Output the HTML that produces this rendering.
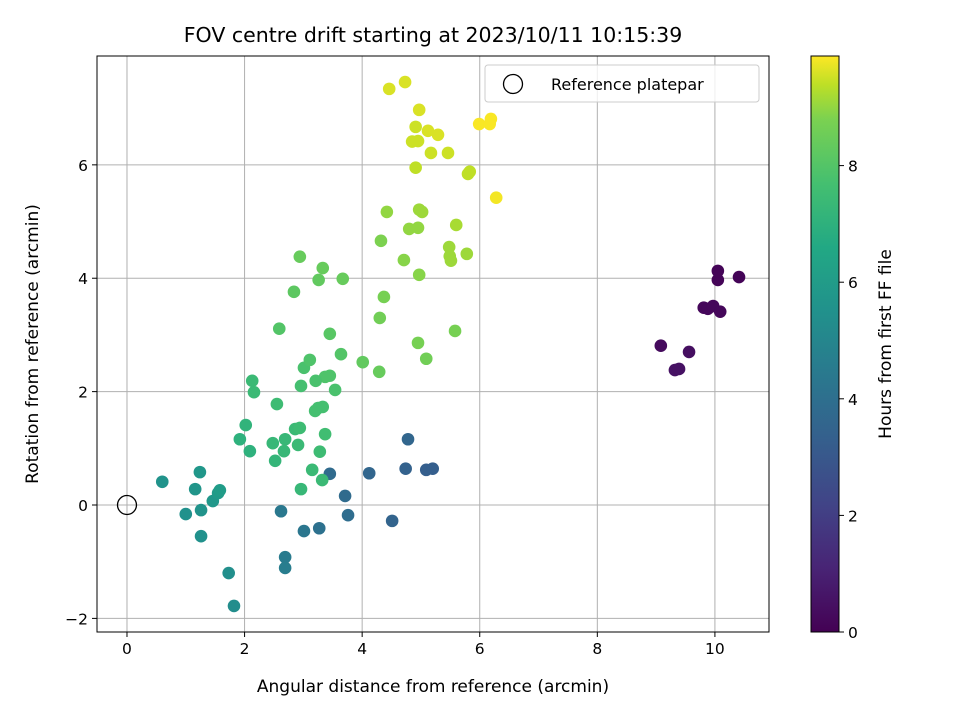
<!DOCTYPE html>
<html><head><meta charset="utf-8"><style>
body{margin:0;background:#fff;}
svg text{font-family:"DejaVu Sans","Liberation Sans",sans-serif;fill:#000;}
</style></head><body>
<svg id="chart" width="960" height="720" xmlns="http://www.w3.org/2000/svg">
<defs>
<linearGradient id="vir" x1="0" y1="1" x2="0" y2="0">
<stop offset="0" stop-color="#440154"/><stop offset="0.111" stop-color="#482475"/><stop offset="0.222" stop-color="#414487"/><stop offset="0.333" stop-color="#355f8d"/><stop offset="0.444" stop-color="#2a788e"/><stop offset="0.556" stop-color="#21918c"/><stop offset="0.667" stop-color="#22a884"/><stop offset="0.778" stop-color="#44bf70"/><stop offset="0.889" stop-color="#7ad151"/><stop offset="0.95" stop-color="#bddf26"/><stop offset="1" stop-color="#fde725"/>
</linearGradient>
<clipPath id="clip"><rect x="97" y="56" width="672" height="576"/></clipPath>
</defs>
<text x="433" y="42" text-anchor="middle" font-size="20.5">FOV centre drift starting at 2023/10/11 10:15:39</text>
<g id="grid"></g>
<g id="pts" clip-path="url(#clip)"></g>
<rect x="97" y="56" width="672" height="576" fill="none" stroke="#000" stroke-width="1"/>
<g id="ticks"></g>
<text x="433" y="692" text-anchor="middle" font-size="17">Angular distance from reference (arcmin)</text>
<text transform="translate(38,344) rotate(-90)" text-anchor="middle" font-size="17">Rotation from reference (arcmin)</text>
<g>
<rect x="485" y="65" width="274" height="37" rx="3" fill="#fff" fill-opacity="0.8" stroke="#ccc"/>
<circle cx="513" cy="84" r="9.5" fill="none" stroke="#000" stroke-width="1.3"/>
<text x="551" y="90" font-size="16">Reference platepar</text>
</g>
<rect x="811" y="56" width="28" height="576" fill="url(#vir)" stroke="#000" stroke-width="1"/>
<g id="cbticks"></g>
<text transform="translate(891,344) rotate(-90)" text-anchor="middle" font-size="17">Hours from first FF file</text>
</svg>
<script>
const xs=[9.08,9.32,9.39,9.56,9.81,9.88,9.97,10.05,10.05,10.09,10.41,
4.78,4.74,5.09,5.20,4.51,4.12,3.71,3.76,3.45,3.27,3.01,2.69,2.69,2.62,
0.60,1.24,1.16,1.0,1.26,1.26,1.46,1.55,1.58,1.73,1.82,
1.92,2.02,2.09,2.13,2.16,2.48,2.52,2.55,2.59,2.67,2.69,2.86,2.91,2.94,2.96,3.01,2.96,3.11,3.15,3.28,3.20,3.25,3.32,3.33,3.37,3.45,3.37,3.21,3.54,3.64,3.45,3.67,2.94,2.84,3.33,3.26,4.01,4.30,4.29,4.37,
4.32,4.42,4.71,4.80,4.95,4.97,5.02,4.97,4.95,5.09,5.48,5.49,5.51,5.58,5.78,5.60,5.80,5.83,4.91,4.85,4.95,4.91,4.97,4.46,4.73,5.12,5.17,5.29,5.46,6.28,5.99,6.17,6.19];
const ys=[2.81,2.38,2.40,2.70,3.48,3.46,3.51,3.97,4.13,3.41,4.02,
1.16,0.64,0.62,0.64,-0.28,0.56,0.16,-0.18,0.55,-0.41,-0.46,-0.92,-1.11,-0.11,
0.41,0.58,0.28,-0.16,-0.09,-0.55,0.07,0.21,0.26,-1.20,-1.78,
1.16,1.41,0.95,2.19,1.99,1.09,0.78,1.78,3.11,0.95,1.16,1.34,1.06,1.36,0.28,2.42,2.10,2.56,0.62,0.94,1.66,1.71,0.44,1.73,1.25,2.28,2.26,2.19,2.03,2.66,3.02,3.99,4.38,3.76,4.18,3.97,2.52,3.30,2.35,3.67,
4.66,5.17,4.32,4.87,4.89,5.21,5.17,4.06,2.86,2.58,4.55,4.39,4.31,3.07,4.43,4.94,5.84,5.88,5.95,6.41,6.42,6.67,6.97,7.34,7.46,6.60,6.21,6.53,6.21,5.42,6.72,6.72,6.81];
const hours=[0.3,0.5,0.5,0.4,0.2,0.2,0.2,0.1,0.1,0.2,0.1,
3.6,3.4,3.3,3.3,3.5,3.6,3.8,3.9,3.8,4.1,4.3,4.5,4.6,4.4,
5.6,5.8,5.7,5.5,5.6,5.5,5.8,5.9,6.0,5.4,5.3,
7.0,7.1,7.0,7.4,7.4,7.3,7.2,7.5,8.0,7.3,7.3,7.4,7.4,7.5,7.3,7.8,7.7,7.9,7.4,7.5,7.7,7.7,7.4,7.7,7.6,7.9,7.9,7.8,7.8,8.0,8.1,8.4,8.4,8.2,8.4,8.3,8.3,8.6,8.4,8.7,
8.8,9.0,8.9,9.0,9.0,9.1,9.1,8.9,8.7,8.6,9.1,9.1,9.1,8.7,9.1,9.2,9.4,9.4,9.4,9.5,9.5,9.5,9.6,9.6,9.6,9.6,9.5,9.6,9.5,9.8,9.85,9.85,9.85];
const xTicks=[0,2,4,6,8,10];
const yTicks=[-2,0,2,4,6];
const cTicks=[0,2,4,6,8];
const xMin=-0.51,xMax=10.92,yMin=-2.24,yMax=7.92,cMax=9.88;
const L=97,R=769,T=56,B=632;
const sx=v=>L+(v-xMin)/(xMax-xMin)*(R-L);
const sy=v=>B-(v-yMin)/(yMax-yMin)*(B-T);
const sc=v=>632-v/cMax*576;
const stops=[[0,[68,1,84]],[0.111,[72,36,117]],[0.222,[65,68,135]],[0.333,[53,95,141]],[0.444,[42,120,142]],[0.556,[33,145,140]],[0.667,[34,168,132]],[0.778,[68,191,112]],[0.889,[122,209,81]],[0.95,[189,223,38]],[1,[253,231,37]]];
function vir(t){t=Math.max(0,Math.min(1,t));for(let i=1;i<stops.length;i++){if(t<=stops[i][0]){const a=stops[i-1],b=stops[i],f=(t-a[0])/(b[0]-a[0]);return 'rgb('+a[1].map((c,k)=>Math.round(c+(b[1][k]-c)*f)).join(',')+')';}}return 'rgb(253,231,37)';}
const NS='http://www.w3.org/2000/svg';
function mk(tag,attrs,parent){const e=document.createElementNS(NS,tag);for(const k in attrs)e.setAttribute(k,attrs[k]);parent.appendChild(e);return e;}
const grid=document.getElementById('grid'),ticks=document.getElementById('ticks');
xTicks.forEach(v=>{const x=sx(v);
const g=mk('line',{x1:x,x2:x,y1:T,y2:B,stroke:'#b0b0b0','stroke-width':1},grid);


mk('line',{x1:x,x2:x,y1:B,y2:B+5,stroke:'#000'},ticks);
const t=mk('text',{x:x,y:B+22,'text-anchor':'middle','font-size':'15.5'},ticks);t.textContent=v;

});
yTicks.forEach(v=>{const y=sy(v);
const g=mk('line',{x1:L,x2:R,y1:y,y2:y,stroke:'#b0b0b0','stroke-width':1},grid);


mk('line',{x1:L-5,x2:L,y1:y,y2:y,stroke:'#000'},ticks);
const t=mk('text',{x:L-9,y:y+6,'text-anchor':'end','font-size':'15.5'},ticks);t.textContent=(v<0?'\u2212'+(-v):v);

});
const cb=document.getElementById('cbticks');
cTicks.forEach(v=>{const y=sc(v);
mk('line',{x1:839,x2:844,y1:y,y2:y,stroke:'#000'},cb);
const t=mk('text',{x:848,y:y+6,'font-size':'15.5'},cb);t.textContent=v;

});
const pts=document.getElementById('pts');
xs.forEach((v,i)=>{const c=mk('circle',{cx:sx(v),cy:sy(ys[i]),r:6.3,fill:vir(hours[i]/cMax)},pts);

});
const ref=mk('circle',{cx:sx(0),cy:sy(0),r:9.5,fill:'none',stroke:'#000','stroke-width':1.3},pts);


</script>
</body></html>
